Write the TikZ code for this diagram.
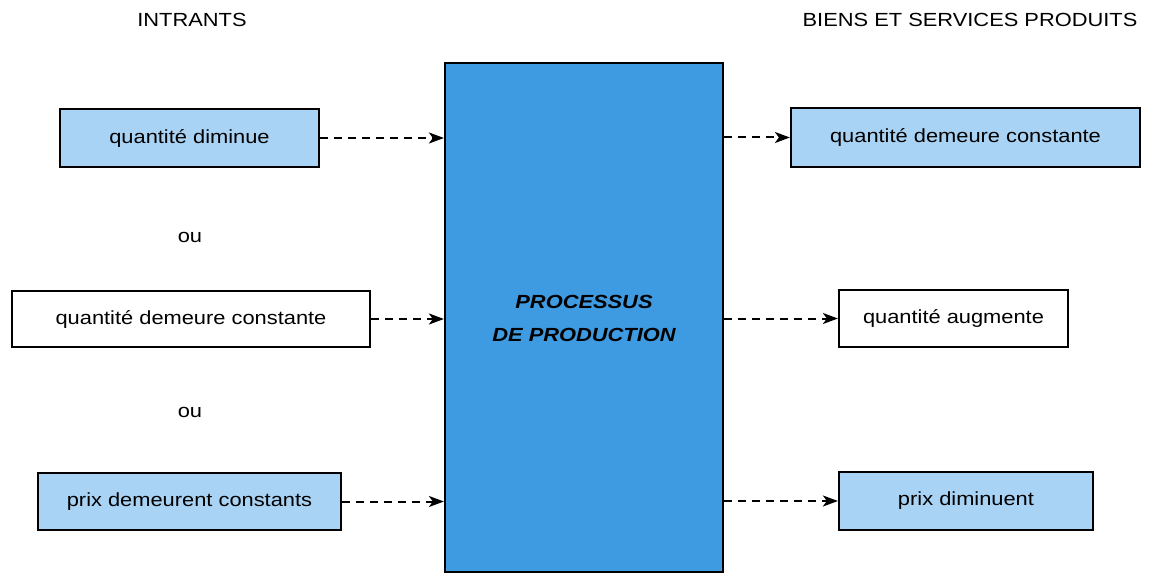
\documentclass[tikz,border=0pt]{standalone}
\usepackage{fontspec}
\setmainfont{Liberation Sans}
\newfontfamily\widefont[FakeStretch=1.15]{Liberation Sans}
\usetikzlibrary{arrows.meta}
\definecolor{lightbox}{HTML}{A9D3F5}
\definecolor{procblue}{HTML}{3E9BE2}
\tikzset{
  box/.style={draw=black, line width=2.2pt, inner sep=0pt, font=\widefont\fontsize{19}{22}\selectfont},
  bluebox/.style={box, fill=lightbox},
  whitebox/.style={box, fill=white},
  lbl/.style={font=\widefont\fontsize{19}{22}\selectfont, inner sep=0pt},
  conn/.style={draw=black, line width=2pt, dash pattern=on 8pt off 6pt, -{Stealth[length=15pt,width=11pt,inset=4pt]}}
}
\begin{document}
\begin{tikzpicture}[x=1pt,y=-1pt]
\useasboundingbox (0,0) rectangle (1149,575);
\node[lbl] (tin) at (192,20) {INTRANTS};
\node[lbl] (tout) at (970,20) {BIENS ET SERVICES PRODUITS};
\node[draw=black, line width=2.2pt, fill=procblue, minimum width=278pt, minimum height=509pt, inner sep=0pt] (proc) at (584,317.5) {};
\node[font=\widefont\fontsize{19}{33}\selectfont\bfseries\itshape, align=center, inner sep=0pt] (ptext) at (584,318) {PROCESSUS\\DE PRODUCTION};
\node[bluebox, minimum width=259pt, minimum height=58pt] (in1) at (189.5,138) {quantité diminue};
\node[whitebox, minimum width=358pt, minimum height=56pt] (in2) at (191,319) {quantité demeure constante};
\node[bluebox, minimum width=303pt, minimum height=57pt] (in3) at (189.5,501.5) {prix demeurent constants};
\node[lbl] (ou1) at (190,237) {ou};
\node[lbl] (ou2) at (190,412) {ou};
\node[bluebox, minimum width=349pt, minimum height=59pt] (out1) at (965.5,137.5) {quantité demeure constante};
\node[whitebox, minimum width=229pt, minimum height=57pt] (out2) at (953.5,318.5) {quantité augmente};
\node[bluebox, minimum width=254pt, minimum height=58pt] (out3) at (966,501) {prix diminuent};
\draw[conn] (in1.east) -- (proc.west |- in1.east);
\draw[conn] (in2.east) -- (proc.west |- in2.east);
\draw[conn] (in3.east) -- (proc.west |- in3.east);
\draw[conn] (proc.east |- out1.west) -- (out1.west);
\draw[conn] (proc.east |- out2.west) -- (out2.west);
\draw[conn] (proc.east |- out3.west) -- (out3.west);
\end{tikzpicture}
\end{document}
